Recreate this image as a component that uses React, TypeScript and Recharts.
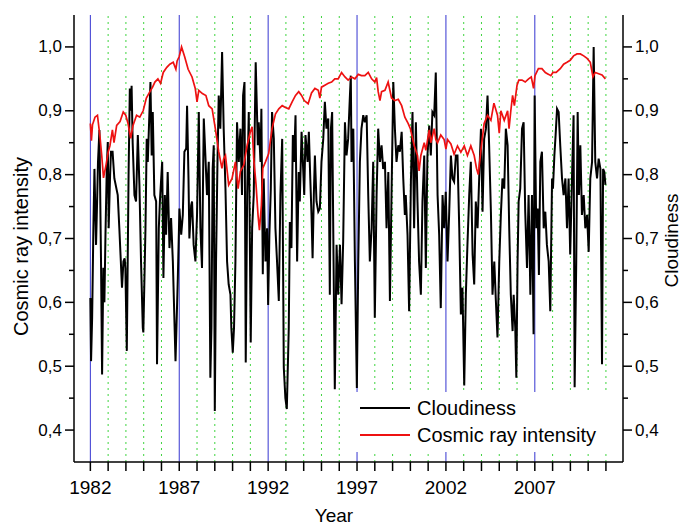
import React from 'react';
import { LineChart, Line, XAxis, YAxis, ReferenceLine } from 'recharts';

const FONT = '"Liberation Sans", Arial, Helvetica, sans-serif';

const yearTicks = [
  1982, 1983, 1984, 1985, 1986, 1987, 1988, 1989, 1990, 1991,
  1992, 1993, 1994, 1995, 1996, 1997, 1998, 1999, 2000, 2001,
  2002, 2003, 2004, 2005, 2006, 2007, 2008, 2009, 2010, 2011,
];
const labeledYears = [1982, 1987, 1992, 1997, 2002, 2007];
const majorYTicks = [0.4, 0.5, 0.6, 0.7, 0.8, 0.9, 1.0];
const allYTicks = [0.4, 0.45, 0.5, 0.55, 0.6, 0.65, 0.7, 0.75, 0.8, 0.85, 0.9, 0.95, 1.0];

// Cosmic ray intensity (normalised)
const cosmicYears = [
  1982.00, 1982.06, 1982.12, 1982.26, 1982.40, 1982.55, 1982.64, 1982.74, 1982.88, 1983.00,
  1983.10, 1983.24, 1983.33, 1983.48, 1983.67, 1983.85, 1983.99, 1984.12, 1984.27, 1984.40,
  1984.60, 1984.78, 1984.97, 1985.15, 1985.35, 1985.50, 1985.63, 1985.80, 1985.95, 1986.10,
  1986.30, 1986.47, 1986.66, 1986.81, 1986.88, 1987.00, 1987.13, 1987.30, 1987.50, 1987.72,
  1987.90, 1988.00, 1988.10, 1988.30, 1988.50, 1988.66, 1988.85, 1989.03, 1989.22, 1989.40,
  1989.50, 1989.60, 1989.78, 1989.97, 1990.16, 1990.31, 1990.44, 1990.63, 1990.82, 1991.00,
  1991.10, 1991.19, 1991.32, 1991.43, 1991.51, 1991.62, 1991.70, 1991.85, 1992.03, 1992.22,
  1992.41, 1992.60, 1992.79, 1992.97, 1993.16, 1993.35, 1993.54, 1993.72, 1993.88, 1994.03,
  1994.25, 1994.44, 1994.63, 1994.82, 1994.91, 1995.00, 1995.19, 1995.38, 1995.57, 1995.75,
  1995.94, 1996.13, 1996.32, 1996.50, 1996.69, 1996.88, 1997.07, 1997.25, 1997.44, 1997.63,
  1997.82, 1998.00, 1998.10, 1998.19, 1998.29, 1998.38, 1998.57, 1998.75, 1998.94, 1999.13,
  1999.32, 1999.51, 1999.69, 1999.88, 2000.00, 2000.21, 2000.40, 2000.49, 2000.59, 2000.78,
  2000.87, 2001.06, 2001.15, 2001.34, 2001.43, 2001.53, 2001.71, 2001.90, 2002.00, 2002.09,
  2002.28, 2002.37, 2002.46, 2002.65, 2002.84, 2003.03, 2003.21, 2003.40, 2003.59, 2003.72,
  2003.82, 2004.00, 2004.15, 2004.34, 2004.53, 2004.70, 2004.90, 2005.00, 2005.09, 2005.28,
  2005.47, 2005.55, 2005.65, 2005.75, 2005.85, 2006.00, 2006.10, 2006.28, 2006.46, 2006.65,
  2006.80, 2006.93, 2007.01, 2007.20, 2007.40, 2007.59, 2007.78, 2007.90, 2008.02, 2008.20,
  2008.43, 2008.62, 2008.81, 2008.99, 2009.18, 2009.37, 2009.56, 2009.75, 2009.94, 2010.12,
  2010.27, 2010.40, 2010.59, 2010.78, 2010.97,
];
const cosmicValues = [
  0.880, 0.853, 0.878, 0.890, 0.893, 0.857, 0.830, 0.795, 0.815, 0.835,
  0.845, 0.870, 0.850, 0.877, 0.883, 0.898, 0.893, 0.880, 0.857, 0.877,
  0.893, 0.890, 0.900, 0.920, 0.930, 0.937, 0.945, 0.950, 0.943, 0.960,
  0.968, 0.973, 0.976, 0.965, 0.978, 0.985, 1.000, 0.985, 0.965, 0.953,
  0.935, 0.914, 0.932, 0.927, 0.924, 0.908, 0.903, 0.872, 0.836, 0.810,
  0.825, 0.830, 0.784, 0.794, 0.820, 0.778, 0.805, 0.815, 0.846, 0.867,
  0.875, 0.825, 0.784, 0.737, 0.713, 0.752, 0.810, 0.820, 0.833, 0.872,
  0.895, 0.903, 0.908, 0.905, 0.903, 0.914, 0.924, 0.930, 0.924, 0.916,
  0.911, 0.928, 0.935, 0.932, 0.920, 0.937, 0.940, 0.943, 0.945, 0.950,
  0.950, 0.960, 0.953, 0.948, 0.953, 0.950, 0.957, 0.955, 0.955, 0.960,
  0.950, 0.945, 0.952, 0.930, 0.916, 0.930, 0.932, 0.945, 0.920, 0.916,
  0.918, 0.908, 0.890, 0.880, 0.872, 0.846, 0.830, 0.806, 0.830, 0.850,
  0.838, 0.870, 0.850, 0.872, 0.855, 0.850, 0.862, 0.855, 0.840, 0.855,
  0.848, 0.840, 0.832, 0.845, 0.835, 0.845, 0.830, 0.845, 0.830, 0.810,
  0.800, 0.846, 0.880, 0.893, 0.885, 0.912, 0.893, 0.865, 0.900, 0.885,
  0.900, 0.872, 0.900, 0.924, 0.908, 0.940, 0.948, 0.948, 0.945, 0.950,
  0.953, 0.935, 0.955, 0.966, 0.966, 0.960, 0.957, 0.955, 0.960, 0.960,
  0.966, 0.973, 0.976, 0.979, 0.986, 0.989, 0.989, 0.986, 0.982, 0.976,
  0.953, 0.960, 0.958, 0.956, 0.950,
];

// Cloudiness
const cloudYears = [
  1982.00, 1982.04, 1982.10, 1982.17, 1982.23, 1982.32, 1982.38, 1982.43, 1982.51, 1982.60,
  1982.66, 1982.73, 1982.79, 1982.85, 1982.92, 1982.98, 1983.03, 1983.11, 1983.16, 1983.25,
  1983.35, 1983.54, 1983.63, 1983.73, 1983.78, 1983.86, 1983.93, 1983.97, 1984.05, 1984.15,
  1984.22, 1984.27, 1984.32, 1984.38, 1984.48, 1984.57, 1984.67, 1984.76, 1984.85, 1984.95,
  1984.98, 1985.10, 1985.17, 1985.23, 1985.38, 1985.45, 1985.51, 1985.60, 1985.70, 1985.75,
  1985.85, 1985.92, 1986.04, 1986.11, 1986.19, 1986.26, 1986.35, 1986.45, 1986.54, 1986.64,
  1986.79, 1986.92, 1987.01, 1987.11, 1987.20, 1987.29, 1987.39, 1987.44, 1987.52, 1987.57,
  1987.67, 1987.72, 1987.81, 1987.91, 1988.00, 1988.10, 1988.19, 1988.28, 1988.38, 1988.47,
  1988.56, 1988.66, 1988.75, 1988.81, 1988.88, 1988.94, 1989.00, 1989.07, 1989.15, 1989.22,
  1989.31, 1989.41, 1989.50, 1989.60, 1989.69, 1989.78, 1989.88, 1989.93, 1990.01, 1990.08,
  1990.16, 1990.25, 1990.35, 1990.44, 1990.53, 1990.59, 1990.67, 1990.74, 1990.82, 1990.91,
  1991.02, 1991.10, 1991.19, 1991.30, 1991.42, 1991.47, 1991.57, 1991.62, 1991.70, 1991.75,
  1991.85, 1991.94, 1992.00, 1992.07, 1992.15, 1992.22, 1992.32, 1992.41, 1992.50, 1992.60,
  1992.69, 1992.79, 1992.88, 1992.97, 1993.05, 1993.16, 1993.22, 1993.31, 1993.39, 1993.46,
  1993.54, 1993.63, 1993.72, 1993.78, 1993.88, 1993.97, 1994.03, 1994.10, 1994.22, 1994.29,
  1994.37, 1994.44, 1994.50, 1994.57, 1994.63, 1994.72, 1994.82, 1994.91, 1995.00, 1995.10,
  1995.19, 1995.28, 1995.38, 1995.47, 1995.53, 1995.60, 1995.68, 1995.75, 1995.85, 1995.94,
  1996.04, 1996.13, 1996.22, 1996.32, 1996.41, 1996.50, 1996.60, 1996.65, 1996.69, 1996.79,
  1996.88, 1996.99, 1997.07, 1997.16, 1997.25, 1997.35, 1997.44, 1997.54, 1997.63, 1997.72,
  1997.82, 1997.91, 1998.00, 1998.10, 1998.19, 1998.29, 1998.38, 1998.47, 1998.57, 1998.66,
  1998.76, 1998.85, 1998.94, 1999.04, 1999.13, 1999.22, 1999.32, 1999.41, 1999.51, 1999.60,
  1999.69, 1999.74, 1999.84, 1999.93, 2000.03, 2000.12, 2000.21, 2000.31, 2000.40, 2000.49,
  2000.59, 2000.68, 2000.78, 2000.87, 2000.96, 2001.06, 2001.15, 2001.24, 2001.34, 2001.43,
  2001.53, 2001.62, 2001.71, 2001.81, 2001.90, 2001.99, 2002.09, 2002.18, 2002.28, 2002.37,
  2002.46, 2002.56, 2002.65, 2002.75, 2002.84, 2002.93, 2003.03, 2003.12, 2003.21, 2003.31,
  2003.40, 2003.50, 2003.59, 2003.68, 2003.78, 2003.87, 2003.97, 2004.06, 2004.15, 2004.25,
  2004.34, 2004.43, 2004.53, 2004.62, 2004.72, 2004.81, 2004.90, 2005.00, 2005.09, 2005.18,
  2005.28, 2005.37, 2005.47, 2005.56, 2005.65, 2005.75, 2005.81, 2005.90, 2005.96, 2006.03,
  2006.09, 2006.18, 2006.28, 2006.37, 2006.46, 2006.56, 2006.65, 2006.75, 2006.84, 2006.93,
  2006.99, 2007.08, 2007.16, 2007.23, 2007.31, 2007.40, 2007.50, 2007.59, 2007.68, 2007.78,
  2007.87, 2007.97, 2008.02, 2008.10, 2008.17, 2008.25, 2008.34, 2008.43, 2008.53, 2008.62,
  2008.72, 2008.81, 2008.90, 2008.99, 2009.09, 2009.18, 2009.24, 2009.33, 2009.41, 2009.48,
  2009.56, 2009.65, 2009.75, 2009.84, 2009.94, 2010.03, 2010.12, 2010.22, 2010.31, 2010.40,
  2010.50, 2010.59, 2010.69, 2010.78, 2010.84, 2010.91, 2010.97,
];
const cloudValues = [
  0.607, 0.508, 0.576, 0.716, 0.809, 0.690, 0.758, 0.820, 0.870, 0.664,
  0.487, 0.654, 0.600, 0.706, 0.804, 0.851, 0.716, 0.799, 0.836, 0.836,
  0.794, 0.768, 0.716, 0.654, 0.623, 0.664, 0.669, 0.654, 0.524, 0.800,
  0.935, 0.900, 0.939, 0.850, 0.768, 0.758, 0.862, 0.784, 0.664, 0.560,
  0.553, 0.716, 0.856, 0.820, 0.945, 0.830, 0.898, 0.768, 0.758, 0.503,
  0.716, 0.763, 0.820, 0.638, 0.768, 0.706, 0.804, 0.685, 0.732, 0.664,
  0.508, 0.638, 0.747, 0.706, 0.737, 0.836, 0.841, 0.908, 0.794, 0.700,
  0.752, 0.758, 0.690, 0.664, 0.737, 0.898, 0.716, 0.654, 0.888, 0.830,
  0.768, 0.820, 0.482, 0.560, 0.809, 0.846, 0.430, 0.664, 0.820, 0.924,
  0.872, 0.992, 0.872, 0.778, 0.664, 0.628, 0.612, 0.560, 0.521, 0.560,
  0.664, 0.882, 0.820, 0.872, 0.768, 0.924, 0.945, 0.506, 0.768, 0.898,
  0.537, 0.716, 0.768, 0.976, 0.846, 0.882, 0.820, 0.903, 0.644, 0.794,
  0.664, 0.716, 0.596, 0.706, 0.778, 0.898, 0.856, 0.716, 0.664, 0.602,
  0.768, 0.856, 0.498, 0.450, 0.433, 0.560, 0.726, 0.685, 0.862, 0.820,
  0.893, 0.664, 0.804, 0.758, 0.867, 0.809, 0.768, 0.862, 0.820, 0.867,
  0.794, 0.737, 0.669, 0.768, 0.830, 0.758, 0.742, 0.747, 0.820, 0.856,
  0.914, 0.872, 0.888, 0.612, 0.872, 0.898, 0.664, 0.464, 0.690, 0.612,
  0.690, 0.597, 0.695, 0.882, 0.830, 0.856, 0.924, 0.955, 0.820, 0.872,
  0.664, 0.466, 0.664, 0.820, 0.872, 0.893, 0.882, 0.893, 0.768, 0.664,
  0.716, 0.820, 0.576, 0.768, 0.872, 0.820, 0.846, 0.809, 0.820, 0.716,
  0.804, 0.602, 0.768, 0.945, 0.872, 0.820, 0.846, 0.836, 0.867, 0.794,
  0.737, 0.768, 0.706, 0.586, 0.789, 0.898, 0.716, 0.882, 0.758, 0.664,
  0.612, 0.758, 0.830, 0.654, 0.830, 0.877, 0.830, 0.898, 0.893, 0.960,
  0.768, 0.706, 0.591, 0.768, 0.716, 0.773, 0.664, 0.737, 0.830, 0.794,
  0.789, 0.830, 0.830, 0.716, 0.581, 0.623, 0.470, 0.612, 0.690, 0.768,
  0.820, 0.675, 0.628, 0.758, 0.716, 0.794, 0.872, 0.742, 0.856, 0.872,
  0.924, 0.846, 0.742, 0.612, 0.664, 0.602, 0.545, 0.664, 0.737, 0.794,
  0.778, 0.872, 0.846, 0.716, 0.612, 0.555, 0.612, 0.560, 0.482, 0.664,
  0.758, 0.778, 0.872, 0.882, 0.742, 0.654, 0.768, 0.612, 0.768, 0.550,
  0.924, 0.716, 0.747, 0.643, 0.820, 0.836, 0.716, 0.742, 0.690, 0.664,
  0.586, 0.794, 0.778, 0.830, 0.862, 0.903, 0.898, 0.846, 0.794, 0.768,
  0.794, 0.716, 0.794, 0.675, 0.794, 0.893, 0.467, 0.664, 0.898, 0.768,
  0.846, 0.737, 0.768, 0.716, 0.737, 0.679, 0.794, 0.820, 1.000, 0.820,
  0.794, 0.825, 0.809, 0.503, 0.809, 0.804, 0.784,
];

const cosmicData = cosmicYears.map((t, i) => ({ t, v: cosmicValues[i] }));
const cloudData = cloudYears.map((t, i) => ({ t, v: cloudValues[i] }));

const X_DOMAIN: [number, number] = [1981.08, 2011.96];
const Y_DOMAIN: [number, number] = [0.35, 1.05];

const isMajor = (v: number) => majorYTicks.some((m) => Math.abs(m - v) < 1e-6);
const fmt = (v: number) => v.toFixed(1).replace('.', ',');

function LeftTick(props: any) {
  const { x, y, payload } = props;
  const major = isMajor(payload.value);
  const len = major ? 9 : 5;
  return (
    <g>
      <line x1={x - len} x2={x} y1={y} y2={y} stroke="#000" strokeWidth={1.5} />
      {major && (
        <text x={x - 12} y={y} textAnchor="end" dominantBaseline="central" fontSize={17} fill="#000" fontFamily={FONT}>
          {fmt(payload.value)}
        </text>
      )}
    </g>
  );
}

function RightTick(props: any) {
  const { x, y, payload } = props;
  const major = isMajor(payload.value);
  const len = major ? 9 : 5;
  return (
    <g>
      <line x1={x} x2={x + len} y1={y} y2={y} stroke="#000" strokeWidth={1.5} />
      {major && (
        <text x={x + 12} y={y} textAnchor="start" dominantBaseline="central" fontSize={17} fill="#000" fontFamily={FONT}>
          {fmt(payload.value)}
        </text>
      )}
    </g>
  );
}

const leftTitle = (p: any) => {
  const vb = p.viewBox || { x: 0, y: 15, width: 74, height: 447 };
  const cx = vb.x + 21;
  const cy = vb.y + vb.height / 2 + 8;
  return (
    <text x={cx} y={cy} transform={`rotate(-90 ${cx} ${cy})`} textAnchor="middle" dominantBaseline="central" fontSize={20} fill="#000" fontFamily={FONT}>
      Cosmic ray intensity
    </text>
  );
};

const rightTitle = (p: any) => {
  const vb = p.viewBox || { x: 623, y: 15, width: 61, height: 447 };
  const cx = vb.x + 48;
  const cy = vb.y + vb.height / 2 + 2;
  return (
    <text x={cx} y={cy} transform={`rotate(-90 ${cx} ${cy})`} textAnchor="middle" dominantBaseline="central" fontSize={19} fill="#000" fontFamily={FONT}>
      Cloudiness
    </text>
  );
};

const bottomTitle = (p: any) => {
  const vb = p.viewBox || { x: 74, y: 462, width: 549, height: 67 };
  return (
    <text x={vb.x + 260} y={vb.y + 60} textAnchor="middle" fontSize={19} fill="#000" fontFamily={FONT}>
      Year
    </text>
  );
};

export default function App() {
  return (
    <div style={{ position: 'absolute', left: 0, top: 0, width: 684, height: 529, background: '#fff', fontFamily: FONT }}>
      <LineChart width={684} height={529} margin={{ top: 15, right: 0, bottom: 0, left: 0 }}>
        <XAxis
          xAxisId="top"
          orientation="top"
          type="number"
          domain={X_DOMAIN}
          allowDataOverflow
          height={0}
          tick={false}
          tickLine={false}
          axisLine={{ stroke: '#000', strokeWidth: 1.5 }}
        />
        <XAxis
          xAxisId="b"
          dataKey="t"
          type="number"
          domain={X_DOMAIN}
          allowDataOverflow
          ticks={yearTicks}
          interval={0}
          tickFormatter={(t: number) => (labeledYears.includes(t) ? String(t) : '')}
          tickSize={9}
          tickMargin={10}
          height={67}
          axisLine={{ stroke: '#000', strokeWidth: 1.5 }}
          tickLine={{ stroke: '#000', strokeWidth: 1.5 }}
          tick={{ fill: '#000', fontSize: 19, fontFamily: FONT }}
          label={{ content: bottomTitle }}
        />
        <YAxis
          yAxisId="left"
          type="number"
          domain={Y_DOMAIN}
          allowDataOverflow
          ticks={allYTicks}
          interval={0}
          width={74}
          tickSize={0}
          tickMargin={0}
          tickLine={false}
          axisLine={{ stroke: '#000', strokeWidth: 1.5 }}
          tick={<LeftTick />}
          label={{ content: leftTitle }}
        />
        <YAxis
          yAxisId="right"
          orientation="right"
          type="number"
          domain={Y_DOMAIN}
          allowDataOverflow
          ticks={allYTicks}
          interval={0}
          width={61}
          tickSize={0}
          tickMargin={0}
          tickLine={false}
          axisLine={{ stroke: '#000', strokeWidth: 1.5 }}
          tick={<RightTick />}
          label={{ content: rightTitle }}
        />
        {yearTicks.map((yr) => {
          const major = labeledYears.includes(yr);
          return (
            <ReferenceLine
              key={yr}
              x={yr}
              xAxisId="b"
              yAxisId="left"
              stroke={major ? '#3535d0' : '#3fd43f'}
              strokeWidth={1}
              strokeDasharray={major ? undefined : '2 4'}
            />
          );
        })}
        <Line
          xAxisId="b"
          yAxisId="right"
          data={cloudData}
          dataKey="v"
          type="linear"
          stroke="#000"
          strokeWidth={2}
          dot={false}
          activeDot={false}
          isAnimationActive={false}
        />
        <Line
          xAxisId="b"
          yAxisId="left"
          data={cosmicData}
          dataKey="v"
          type="linear"
          stroke="#ee1111"
          strokeWidth={1.7}
          dot={false}
          activeDot={false}
          isAnimationActive={false}
        />
      </LineChart>
      <div style={{ position: 'absolute', left: 350, top: 392, width: 265, height: 60, background: '#fff' }}>
        <svg width={265} height={60}>
          <line x1={10} x2={60} y1={16} y2={16} stroke="#000" strokeWidth={2} />
          <text x={67} y={16} dominantBaseline="central" fontSize={20} fill="#000" fontFamily={FONT}>Cloudiness</text>
          <line x1={10} x2={60} y1={43} y2={43} stroke="#ee1111" strokeWidth={2} />
          <text x={67} y={43} dominantBaseline="central" fontSize={20} fill="#000" fontFamily={FONT}>Cosmic ray intensity</text>
        </svg>
      </div>
    </div>
  );
}
